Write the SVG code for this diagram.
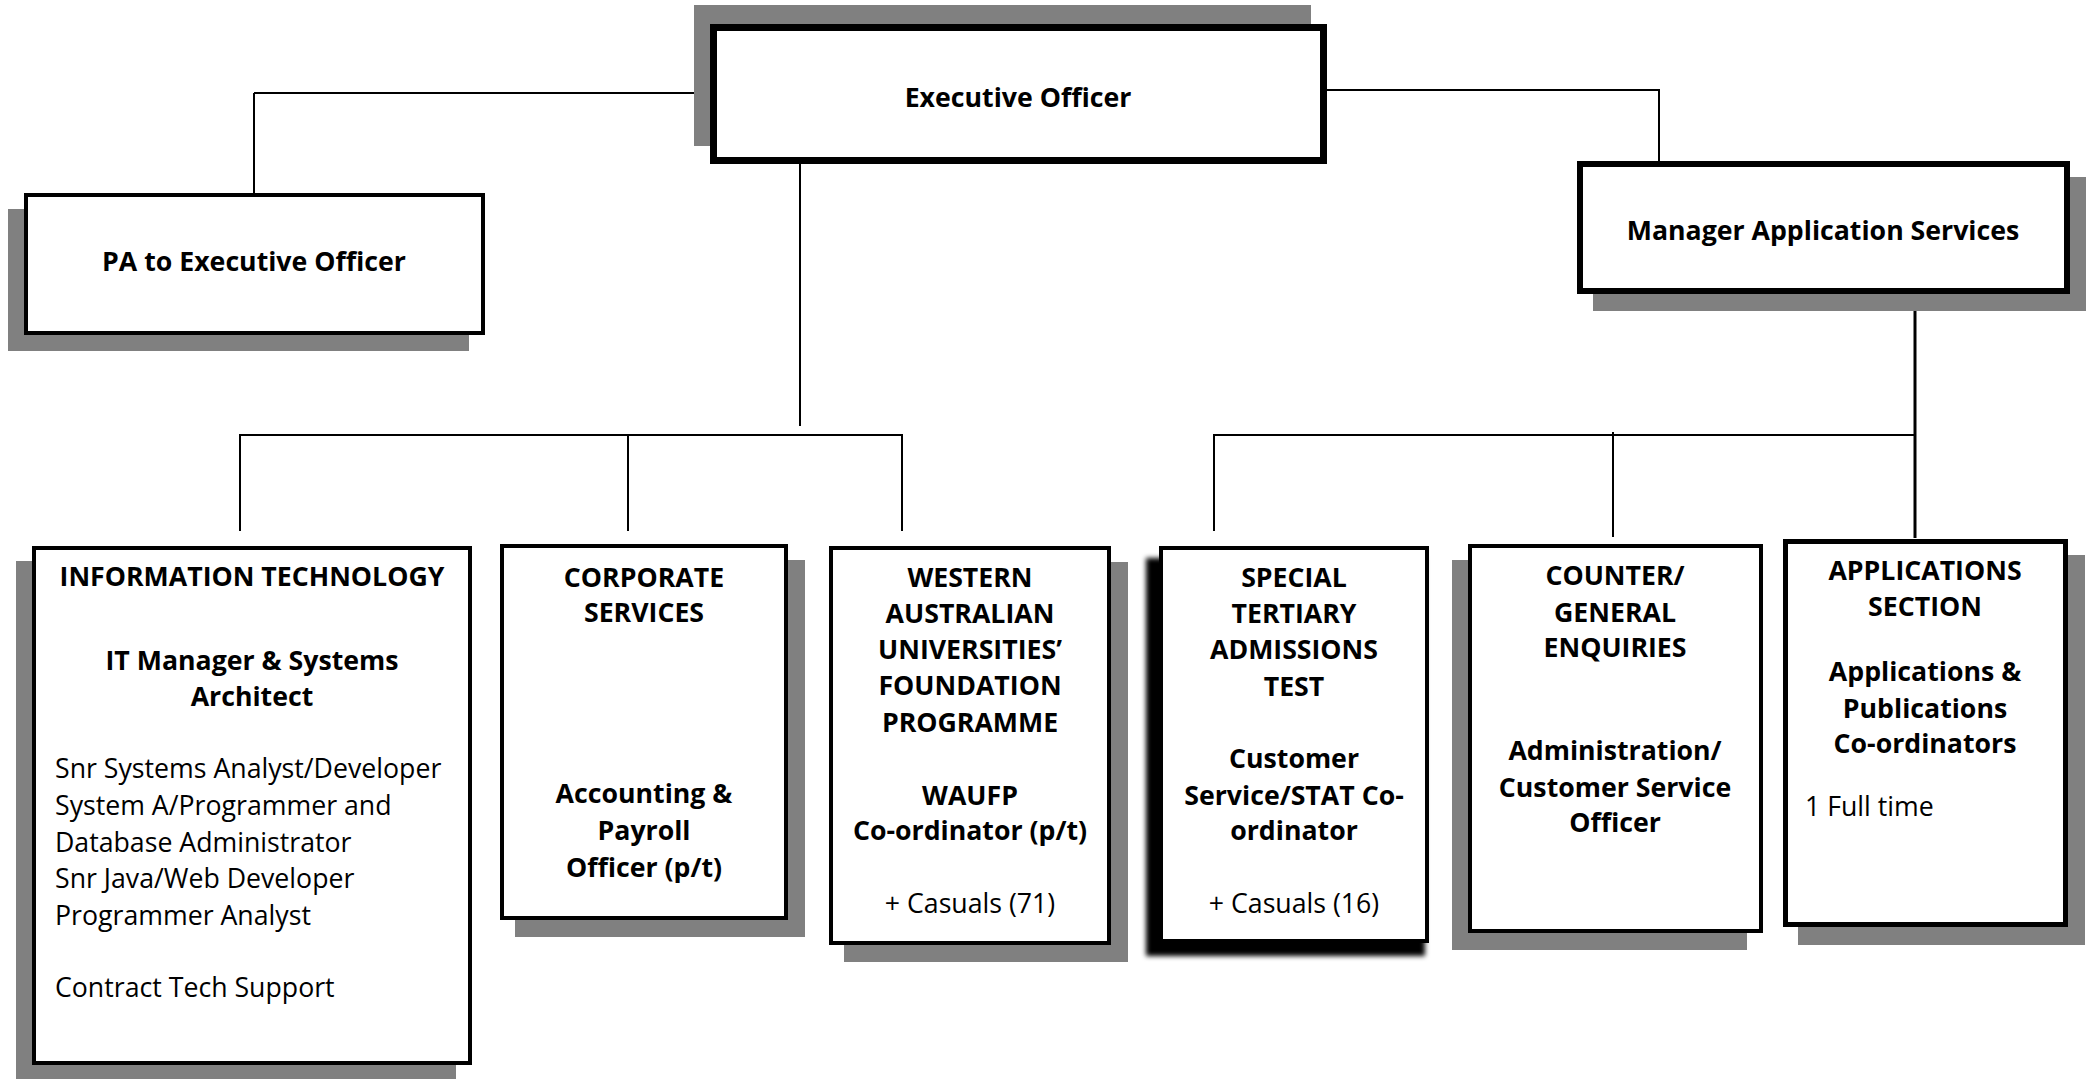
<svg xmlns="http://www.w3.org/2000/svg" width="2096" height="1079" viewBox="0 0 2096 1079">
<defs>
<style>
.sh{fill:#808080}
.bx{fill:#fff;stroke:#000}
.t{font-family:"Open Sans","Liberation Sans",sans-serif;font-size:26.7px;fill:#000}
.b{font-weight:700}
.c{text-anchor:middle}
.ln{stroke:#000;stroke-width:2;fill:none}
</style>
<filter id="blur" x="-10%" y="-10%" width="120%" height="120%"><feGaussianBlur stdDeviation="2.5"/></filter>
</defs>
<rect width="2096" height="1079" fill="#fff"/>
<g id="connectors">
<path class="ln" d="M254 93H710M254 93V193"/>
<path class="ln" d="M1327 90H1659V161"/>
<path class="ln" d="M800 164V426"/>
<path class="ln" d="M240 531V435H902V531M628 435V531"/>
<path class="ln" d="M1214 531V435H1915M1613 432V537"/>
<path class="ln" style="stroke-width:3" d="M1915 294V538"/>
</g>
<g id="exec">
<rect class="sh" x="694" y="5" width="617" height="141"/>
<rect class="bx" x="713.5" y="27.5" width="610" height="133" stroke-width="7"/>
<text class="t b c" x="1018" y="107">Executive Officer</text>
</g>
<g id="pa">
<rect class="sh" x="8" y="209" width="461" height="142"/>
<rect class="bx" x="26" y="195" width="457" height="138" stroke-width="4"/>
<text class="t b c" x="254" y="271">PA to Executive Officer</text>
</g>
<g id="manager">
<rect class="sh" x="1593" y="177" width="493" height="134"/>
<rect class="bx" x="1580" y="164" width="487" height="127" stroke-width="6"/>
<text class="t b c" x="1823" y="240">Manager Application Services</text>
</g>
<g id="it">
<rect class="sh" x="16" y="561" width="440" height="520"/>
<rect class="bx" x="34" y="548" width="436" height="515" stroke-width="4"/>
<text class="t b c" x="252" y="586">INFORMATION TECHNOLOGY</text>
<text class="t b c" x="252" y="670">IT Manager &amp; Systems</text>
<text class="t b c" x="252" y="706">Architect</text>
<text class="t" x="55" y="778">Snr Systems Analyst/Developer</text>
<text class="t" x="55" y="815">System A/Programmer and</text>
<text class="t" x="55" y="852">Database Administrator</text>
<text class="t" x="55" y="888">Snr Java/Web Developer</text>
<text class="t" x="55" y="925">Programmer Analyst</text>
<text class="t" x="55" y="997">Contract Tech Support</text>
</g>
<g id="corporate">
<rect class="sh" x="515" y="560" width="290" height="377"/>
<rect class="bx" x="502" y="546" width="284" height="372" stroke-width="4"/>
<text class="t b c" x="644" y="587">CORPORATE</text>
<text class="t b c" x="644" y="622">SERVICES</text>
<text class="t b c" x="644" y="803">Accounting &amp;</text>
<text class="t b c" x="644" y="840">Payroll</text>
<text class="t b c" x="644" y="877">Officer (p/t)</text>
</g>
<g id="waufp">
<rect class="sh" x="844" y="562" width="284" height="400"/>
<rect class="bx" x="831" y="548" width="278" height="395" stroke-width="4"/>
<text class="t b c" x="970" y="587">WESTERN</text>
<text class="t b c" x="970" y="623">AUSTRALIAN</text>
<text class="t b c" x="970" y="659">UNIVERSITIES’</text>
<text class="t b c" x="970" y="695">FOUNDATION</text>
<text class="t b c" x="970" y="732">PROGRAMME</text>
<text class="t b c" x="970" y="805">WAUFP</text>
<text class="t b c" x="970" y="840">Co-ordinator (p/t)</text>
<text class="t c" x="970" y="913">+ Casuals (71)</text>
</g>
<g id="stat">
<rect x="1146" y="558" width="279" height="398" fill="#000" filter="url(#blur)"/>
<rect class="bx" x="1161" y="548" width="266" height="393" stroke-width="4"/>
<text class="t b c" x="1294" y="587">SPECIAL</text>
<text class="t b c" x="1294" y="623">TERTIARY</text>
<text class="t b c" x="1294" y="659">ADMISSIONS</text>
<text class="t b c" x="1294" y="696">TEST</text>
<text class="t b c" x="1294" y="768">Customer</text>
<text class="t b c" x="1294" y="805">Service/STAT Co-</text>
<text class="t b c" x="1294" y="840">ordinator</text>
<text class="t c" x="1294" y="913">+ Casuals (16)</text>
</g>
<g id="counter">
<rect class="sh" x="1452" y="560" width="295" height="390"/>
<rect class="bx" x="1470" y="546" width="291" height="385" stroke-width="4"/>
<text class="t b c" x="1615" y="585">COUNTER/</text>
<text class="t b c" x="1615" y="622">GENERAL</text>
<text class="t b c" x="1615" y="657">ENQUIRIES</text>
<text class="t b c" x="1615" y="760">Administration/</text>
<text class="t b c" x="1615" y="797">Customer Service</text>
<text class="t b c" x="1615" y="832">Officer</text>
</g>
<g id="applications">
<rect class="sh" x="1798" y="555" width="287" height="390"/>
<rect class="bx" x="1785.5" y="541.5" width="280" height="383" stroke-width="5"/>
<text class="t b c" x="1925" y="580">APPLICATIONS</text>
<text class="t b c" x="1925" y="616">SECTION</text>
<text class="t b c" x="1925" y="681">Applications &amp;</text>
<text class="t b c" x="1925" y="718">Publications</text>
<text class="t b c" x="1925" y="753">Co-ordinators</text>
<text class="t" x="1805" y="816">1 Full time</text>
</g>
</svg>
